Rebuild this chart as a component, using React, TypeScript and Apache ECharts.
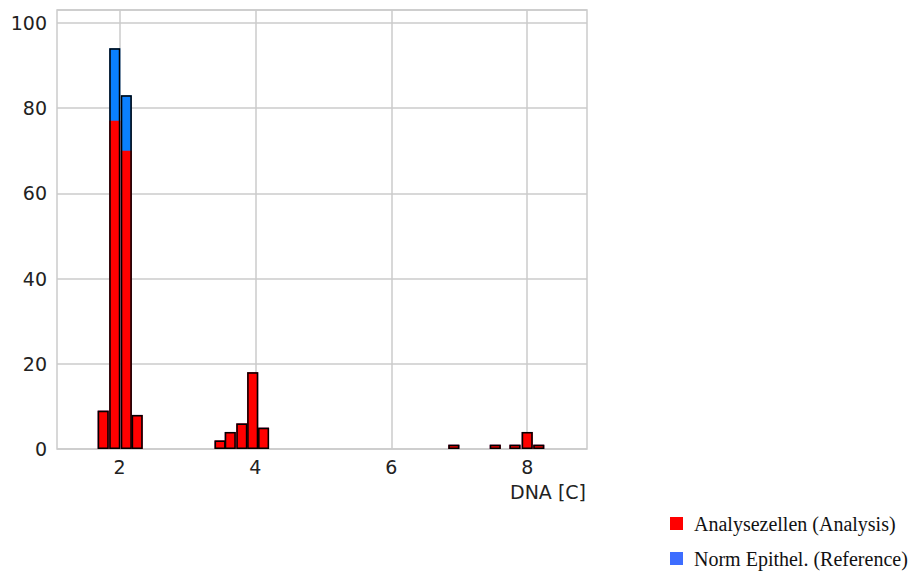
import React, { useEffect, useRef } from "react";
import * as echarts from "echarts";

// Histogram bin centres (DNA [C]) and counts
const binCenters = [1.76, 1.93, 2.1, 2.26, 3.48, 3.63, 3.8, 3.96, 4.12, 6.92, 7.53, 7.82, 8.0, 8.17];
const analysisCounts = [9, 77, 70, 8, 2, 4, 6, 18, 5, 1, 1, 1, 4, 1];
const referenceCounts = [0, 17, 13, 0, 0, 0, 0, 0, 0, 0, 0, 0, 0, 0];
const xTickValues = [2, 4, 6, 8];
const seriesNames = ["Analysezellen (Analysis)", "Norm Epithel. (Reference)"];
const xAxisTitle = "DNA [C]";

const RED = "#ff0000";
const BAR_BLUE = "#0a80ff";
const LEGEND_BLUE = "#3d6dff";
const GRID = "#cbcbcb";
const AXIS_FONT = "DejaVu Sans";
const LEGEND_FONT = "Liberation Serif";

export default function App() {
  const ref = useRef<HTMLDivElement>(null);

  useEffect(() => {
    if (!ref.current) return;
    const chart = echarts.init(ref.current, undefined, { renderer: "svg" });

    const totals = binCenters.map((x, i) => [x, analysisCounts[i] + referenceCounts[i]]);
    const analysis = binCenters.map((x, i) => [x, analysisCounts[i]]);

    const option: any = {
      animation: false,
      backgroundColor: "#ffffff",
      grid: {
        left: 57,
        top: 10,
        width: 530,
        height: 439,
        show: true,
        borderColor: GRID,
        borderWidth: 1.5,
        backgroundColor: "#ffffff",
        containLabel: false,
      },
      xAxis: {
        type: "value",
        min: 1.08,
        max: 8.88,
        axisLine: { show: false },
        axisTick: { show: false, customValues: xTickValues },
        axisLabel: {
          customValues: xTickValues,
          margin: 8,
          fontSize: 19,
          fontFamily: AXIS_FONT,
          color: "#222",
        },
        splitLine: { show: true, lineStyle: { color: GRID, width: 1.5 } },
      },
      yAxis: {
        type: "value",
        min: 0,
        max: 103,
        interval: 20,
        axisLine: { show: false },
        axisTick: { show: false },
        axisLabel: {
          showMaxLabel: false,
          margin: 10,
          fontSize: 19,
          fontFamily: AXIS_FONT,
          color: "#222",
        },
        splitLine: { show: true, lineStyle: { color: GRID, width: 1.5 } },
      },
      series: [
        {
          type: "bar",
          name: seriesNames[1],
          data: totals,
          barWidth: 11,
          barGap: "-100%",
          itemStyle: { color: BAR_BLUE },
        },
        {
          type: "bar",
          name: seriesNames[0],
          data: analysis,
          barWidth: 11,
          barGap: "-100%",
          itemStyle: { color: RED },
        },
        {
          type: "bar",
          name: "outline",
          data: totals,
          barWidth: 11,
          barGap: "-100%",
          itemStyle: { color: "rgba(0,0,0,0)", borderColor: "#000", borderWidth: 1.5 },
        },
      ],
      graphic: [
        {
          type: "text",
          x: 586,
          y: 492,
          style: {
            text: xAxisTitle,
            align: "right",
            verticalAlign: "middle",
            fontSize: 19,
            fontFamily: AXIS_FONT,
            fill: "#222",
          },
        },
        { type: "rect", shape: { x: 670, y: 517, width: 13, height: 13 }, style: { fill: RED } },
        {
          type: "text",
          x: 694,
          y: 523.5,
          style: {
            text: seriesNames[0],
            verticalAlign: "middle",
            fontSize: 20,
            fontFamily: LEGEND_FONT,
            fill: "#111",
          },
        },
        { type: "rect", shape: { x: 670, y: 552, width: 13, height: 13 }, style: { fill: LEGEND_BLUE } },
        {
          type: "text",
          x: 694,
          y: 558.5,
          style: {
            text: seriesNames[1],
            verticalAlign: "middle",
            fontSize: 20,
            fontFamily: LEGEND_FONT,
            fill: "#111",
          },
        },
      ],
    };

    chart.setOption(option);
    return () => chart.dispose();
  }, []);

  return (
    <div
      ref={ref}
      style={{ position: "fixed", left: 0, top: 0, width: 909, height: 572, background: "#fff" }}
    />
  );
}
